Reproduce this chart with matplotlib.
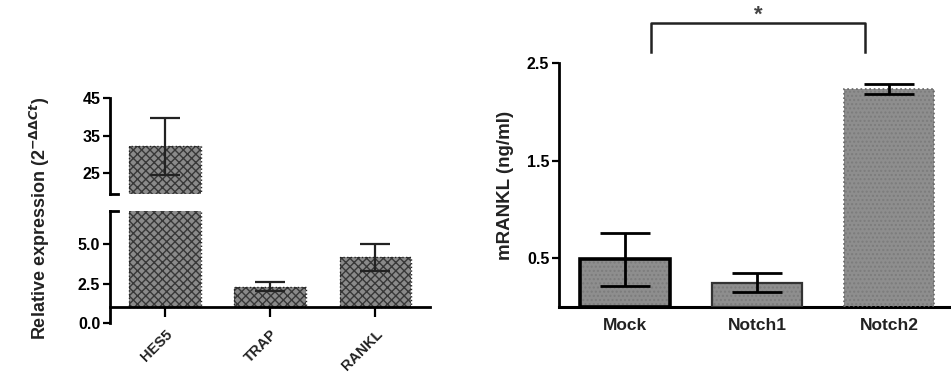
import matplotlib.pyplot as plt
import numpy as np

plt.rcParams['font.family'] = ['Liberation Sans', 'DejaVu Sans']
plt.rcParams['font.weight'] = 'bold'

# Data - left panel (relative expression)
genes = ['HES5', 'TRAP', 'RANKL']
expr = [32.1, 2.3, 4.17]
expr_err = [7.5, 0.3, 0.87]

# Data - right panel (mRANKL)
groups = ['Mock', 'Notch1', 'Notch2']
rankl = [0.49, 0.25, 2.23]
rankl_err = [0.27, 0.10, 0.05]

fig = plt.figure(figsize=(9.51, 3.72), dpi=100)

# ---------- left panel: broken y axis ----------
ax_top = fig.add_axes([0.1157, 0.4785, 0.3365, 0.258])
ax_bot = fig.add_axes([0.1157, 0.1317, 0.3365, 0.301])

x = np.arange(len(genes))
base = 1.0  # where the x axis line sits in the lower segment
face_l, hatch_l = '#8a8a8a', '#383838'

for ax in (ax_top, ax_bot):
    heights = np.array(expr) - base
    ax.bar(x, heights, bottom=base, width=0.68, color=face_l, edgecolor=hatch_l,
           hatch='xxxx', linewidth=0, zorder=2)
    ax.bar(x, heights, bottom=base, width=0.68, fill=False, edgecolor='#222222',
           linewidth=1.0, linestyle=':', zorder=3)
    ax.errorbar(x, expr, yerr=expr_err, fmt='none', ecolor='#222222',
                elinewidth=1.6, capsize=11, capthick=1.6, zorder=4)
    ax.set_xlim(-0.52, 2.52)
    for s in ('top', 'right', 'bottom'):
        ax.spines[s].set_visible(False)
    ax.spines['left'].set_linewidth(2)
    ax.tick_params(axis='y', width=1.6, length=5, labelsize=11.5, pad=2)
    ax.patch.set_alpha(0)

ax_top.set_ylim(19.4, 45)
ax_top.set_yticks([25, 35, 45])
ax_top.set_yticklabels(['25', '35', '45'])
ax_top.set_xticks([])

ax_bot.set_ylim(0, 7.1)
ax_bot.set_yticks([0, 2.5, 5.0])
ax_bot.set_yticklabels(['0.0', '2.5', '5.0'])
ax_bot.axhline(base, color='black', linewidth=2, zorder=5, clip_on=False)
ax_bot.set_xticks(x)
ax_bot.set_xticklabels(genes, rotation=45, ha='right', rotation_mode='anchor',
                       fontsize=10.5, color='#222222')
ax_bot.tick_params(axis='x', length=0, pad=3)
# x tick marks hang from the axis line
ax_bot.plot(x, [base] * len(x), linestyle='none', marker=3, markersize=7,
            markeredgewidth=1.6, color='black', clip_on=False, zorder=6)

# break marks
ax_top.plot([0, 0.025], [0, 0], transform=ax_top.transAxes, color='black', lw=2, clip_on=False)
ax_bot.plot([0, 0.025], [1, 1], transform=ax_bot.transAxes, color='black', lw=2, clip_on=False)

fig.text(0.042, 0.414, r'Relative expression (2$^{-\Delta\Delta Ct}$)', rotation=90,
         ha='center', va='center', fontsize=13, color='#222222')

# ---------- right panel ----------
ax2 = fig.add_axes([0.5878, 0.1747, 0.4164, 0.656])
x2 = np.arange(len(groups))
face_r = '#8e8e8e'
ax2.bar(x2, rankl, width=0.675, color=face_r, edgecolor='#7c7c7c', hatch='....',
        linewidth=0, zorder=2)
edge_styles = [('black', 2.6, '-'), ('#333333', 1.6, '-'), ('#666666', 1.2, ':')]
for xi, v, (ec, lw, ls) in zip(x2, rankl, edge_styles):
    ax2.bar(xi, v, width=0.675, fill=False, edgecolor=ec, linewidth=lw, linestyle=ls, zorder=3)
ax2.errorbar(x2, rankl, yerr=rankl_err, fmt='none', ecolor='black',
             elinewidth=2, capsize=18, capthick=2, zorder=4)
ax2.set_xlim(-0.5, 2.5)
ax2.set_ylim(0, 2.5)
ax2.set_yticks([0.5, 1.5, 2.5])
ax2.set_yticklabels(['0.5', '1.5', '2.5'])
ax2.set_xticks(x2)
ax2.set_xticklabels(groups, fontsize=12.5, color='#222222')
ax2.tick_params(axis='x', length=0, pad=8)
ax2.tick_params(axis='y', width=1.6, length=5, labelsize=11.5, pad=2)
for s in ('top', 'right'):
    ax2.spines[s].set_visible(False)
ax2.spines['left'].set_linewidth(2)
ax2.spines['bottom'].set_linewidth(2.2)
ax2.set_ylabel('mRANKL (ng/ml)', fontsize=13.5, fontweight='bold', color='#222222',
               labelpad=9)

# significance bracket
bx = [x2[0] + 0.2, x2[0] + 0.2, x2[2] - 0.18, x2[2] - 0.18]
by = [2.61, 2.91, 2.91, 2.61]
ax2.plot(bx, by, color='#222222', lw=1.8, clip_on=False)
ax2.text((bx[0] + bx[2]) / 2, 2.88, '*', ha='center', va='bottom', fontsize=16,
         color='#444444', clip_on=False)

fig.savefig('out.png', dpi=100)
